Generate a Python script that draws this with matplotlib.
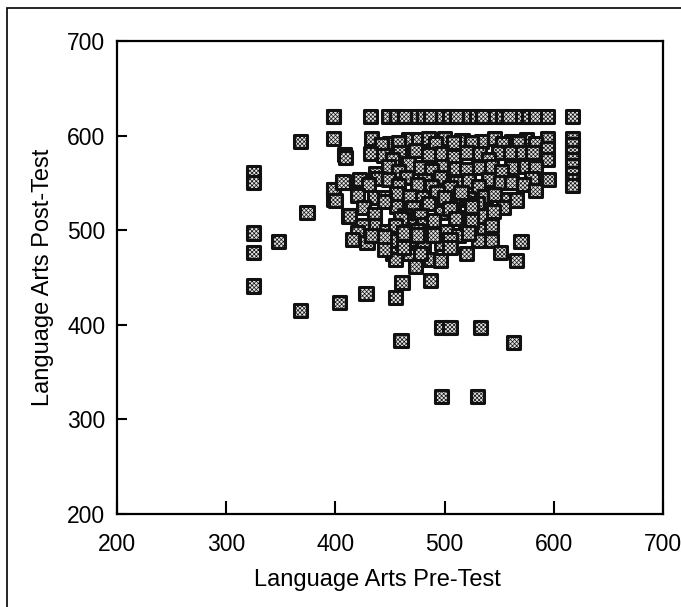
import matplotlib
matplotlib.use('Agg')
import matplotlib.pyplot as plt
from matplotlib.patches import Rectangle

plt.rcParams['font.family'] = ['Liberation Sans', 'DejaVu Sans']
plt.rcParams['hatch.linewidth'] = 0.5

# scores, row by row
pre_isolated = [325, 325, 325, 325, 325, 348, 368, 368, 374, 398, 398, 398, 398, 404, 408, 408, 412, 428,
                460, 497, 505, 533, 563, 497, 530, 455]
post_isolated = [561, 550, 497, 476, 441, 488, 594, 415, 519, 620, 597, 543, 533, 424, 550, 580, 515, 433,
                 383, 397, 397, 397, 381, 324, 324, 429]

pre_top = [398, 432, 449, 456, 463, 475, 481, 487, 498, 505, 511, 523, 529, 535, 547, 553, 559, 571, 577, 583, 594, 617]
post_top = [620] * len(pre_top)

pre_right = [617, 617, 617, 617, 617, 617, 617, 617]
post_right = [597, 590, 582, 575, 568, 560, 552, 547]

pre_row1 = [433, 450, 467, 476, 485, 500, 516, 534, 546, 561, 575, 594, 458, 492, 508, 525, 553, 568, 583, 442]
post_row1 = [597, 592, 596, 596, 597, 597, 595, 594, 597, 594, 596, 597, 593, 592, 593, 593, 592, 593, 592, 590]

pre_row2 = [409, 432, 444, 459, 473, 497, 508, 532, 549, 560, 571, 581, 594, 485, 520, 452, 540]
post_row2 = [577, 581, 579, 582, 584, 581, 578, 581, 582, 582, 582, 582, 586, 580, 582, 575, 575]

pre_row3 = [449, 467, 478, 497, 510, 531, 543, 561, 574, 594, 437, 458, 488, 520, 552, 583]
post_row3 = [567, 570, 566, 567, 565, 566, 567, 566, 567, 575, 560, 562, 563, 564, 562, 566]

pre_row4 = [422, 439, 449, 465, 482, 496, 511, 522, 540, 551, 561, 580, 595, 430, 458, 475, 488, 505, 531, 572]
post_row4 = [554, 555, 554, 556, 552, 556, 550, 552, 554, 550, 550, 555, 554, 548, 547, 548, 546, 545, 546, 548]

pre_row5 = [398, 407, 420, 436, 456, 468, 493, 508, 522, 537, 557, 566, 583, 445, 480, 500, 515, 530, 546]
post_row5 = [543, 551, 537, 535, 539, 536, 540, 529, 533, 536, 532, 532, 542, 535, 535, 535, 540, 528, 538]

pre_row6 = [400, 426, 436, 456, 471, 497, 514, 537, 554, 445, 485, 525, 463, 505, 545, 478]
post_row6 = [531, 524, 517, 525, 524, 519, 513, 515, 524, 530, 528, 525, 515, 523, 520, 515]

pre_row7 = [413, 436, 447, 468, 481, 502, 519, 536, 460, 490, 510, 525, 425, 475, 543, 455]
post_row7 = [515, 505, 499, 505, 506, 499, 501, 501, 512, 510, 512, 510, 505, 500, 505, 505]

pre_row8 = [420, 416, 429, 433, 455, 468, 481, 497, 513, 531, 543, 570, 445, 490, 505, 462, 475, 522]
post_row8 = [497, 490, 487, 494, 489, 490, 483, 486, 494, 489, 489, 488, 493, 495, 490, 497, 495, 497]

pre_row9 = [452, 455, 468, 473, 487, 496, 520, 551, 566, 461, 487, 462, 478, 505, 445]
post_row9 = [475, 469, 475, 462, 469, 468, 475, 476, 468, 445, 447, 482, 475, 482, 480]

pre_test = (pre_isolated + pre_top + pre_right + pre_row1 + pre_row2 + pre_row3 + pre_row4
            + pre_row5 + pre_row6 + pre_row7 + pre_row8 + pre_row9)
post_test = (post_isolated + post_top + post_right + post_row1 + post_row2 + post_row3 + post_row4
             + post_row5 + post_row6 + post_row7 + post_row8 + post_row9)

ticks = [200, 300, 400, 500, 600, 700]

W, H = 681, 607
fig = plt.figure(figsize=(W / 100, H / 100), dpi=100)

# outer frame of the scanned figure
fig.add_artist(Rectangle((7 / W, -0.01), 800 / W, (607 - 8) / H + 0.01, transform=fig.transFigure,
                         fill=False, edgecolor='black', linewidth=1.2))

ax = fig.add_axes([117 / W, 1 - 514 / H, (663 - 117) / W, (514 - 41) / H])
ax.scatter(pre_test, post_test, s=90, marker='s', facecolor='#e4e4e4', edgecolor='#111111',
           linewidth=2.2, hatch='xxxxxxxx', clip_on=False, zorder=3)

ax.set_xlim(200, 700)
ax.set_ylim(200, 700)
ax.set_xticks(ticks)
ax.set_yticks(ticks)
ax.tick_params(axis='x', direction='in', length=9.5, width=1.5, labelsize=16.5, pad=14)
ax.tick_params(axis='y', direction='in', length=7.5, width=1.5, labelsize=16.5, pad=8.5)
for side in ax.spines.values():
    side.set_linewidth(1.6)

ax.set_xlabel('Language Arts Pre-Test', fontsize=17, labelpad=9, x=(377 - 117) / 546)
ax.set_ylabel('Language Arts Post-Test', fontsize=17, labelpad=9)

fig.savefig('out.png', dpi=100)
